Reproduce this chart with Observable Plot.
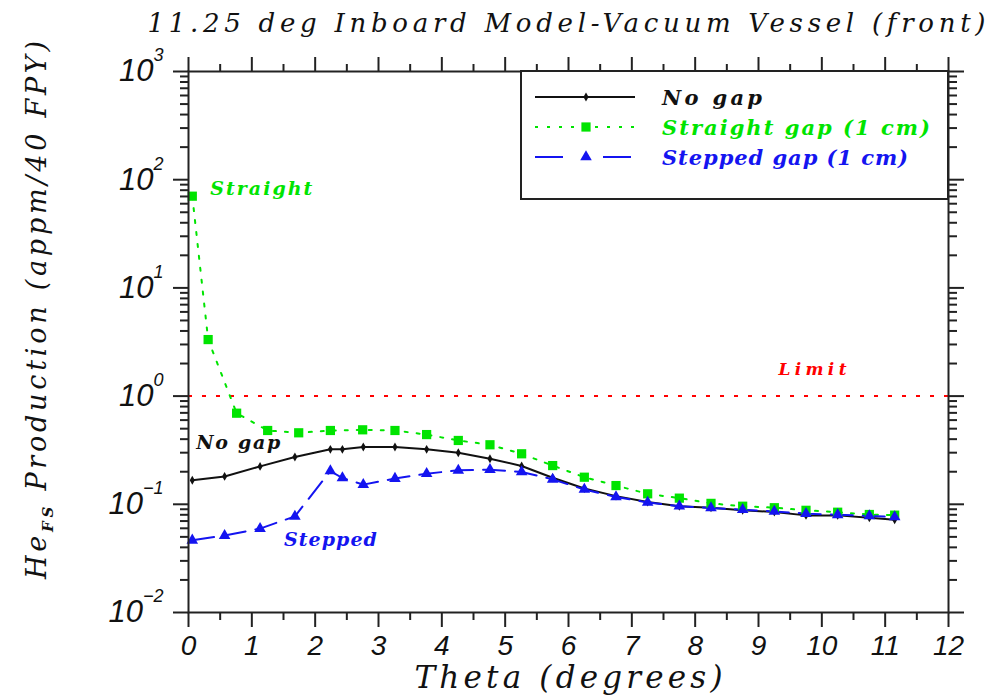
<!DOCTYPE html>
<html>
<head>
<meta charset="utf-8">
<script src="https://cdn.jsdelivr.net/npm/d3@7"></script>
<script src="https://cdn.jsdelivr.net/npm/@observablehq/plot@0.6"></script>
<style>
  body { margin: 0; background: #fff; }
</style>
</head>
<body>
<div id="chart"></div>
<script>
// He production in the vacuum vessel front, 11.25 deg inboard model
const titleText = "11.25 deg Inboard Model-Vacuum Vessel (front)";
const xLabelText = "Theta (degrees)";
const yLabelParts = ["He", "FS", " Production (appm/40 FPY)"];

// No gap
const thetaNoGap = [0.06, 0.57, 1.13, 1.68, 2.24, 2.43, 2.76, 3.26, 3.76, 4.26, 4.76, 5.26,
                    5.75, 6.25, 6.75, 7.25, 7.75, 8.25, 8.75, 9.25, 9.75, 10.25, 10.75, 11.15];
const heNoGap = [0.167, 0.181, 0.224, 0.274, 0.322, 0.322, 0.339, 0.339, 0.322, 0.300, 0.264, 0.226,
                 0.176, 0.140, 0.119, 0.105, 0.096, 0.093, 0.088, 0.085, 0.079, 0.079, 0.075, 0.072];

// Straight gap (1 cm)
const thetaStraight = [0.06, 0.31, 0.76, 1.25, 1.74, 2.24, 2.75, 3.26, 3.76, 4.26, 4.76, 5.26,
                       5.75, 6.25, 6.75, 7.25, 7.75, 8.25, 8.75, 9.25, 9.75, 10.25, 10.75, 11.15];
const heStraight = [70.4, 3.33, 0.695, 0.481, 0.458, 0.481, 0.488, 0.481, 0.441, 0.389, 0.355, 0.293,
                    0.228, 0.178, 0.149, 0.125, 0.114, 0.102, 0.096, 0.093, 0.088, 0.0845, 0.0805, 0.0794];

// Stepped gap (1 cm)
const thetaStepped = [0.06, 0.57, 1.13, 1.68, 2.24, 2.43, 2.76, 3.26, 3.76, 4.26, 4.76, 5.26,
                      5.75, 6.25, 6.75, 7.25, 7.75, 8.25, 8.75, 9.25, 9.75, 10.25, 10.75, 11.15];
const heStepped = [0.0465, 0.0514, 0.0596, 0.0774, 0.203, 0.175, 0.152, 0.173, 0.192, 0.206, 0.209, 0.199,
                   0.170, 0.137, 0.117, 0.104, 0.096, 0.0925, 0.089, 0.086, 0.082, 0.080, 0.078, 0.0763];

const limitValue = 1;
const limitLabel = "Limit";

const seriesNames = ["No gap", "Straight gap (1 cm)", "Stepped gap (1 cm)"];
const seriesTags = ["No gap", "Straight", "Stepped"];

// Axis ticks
const xMajorTicks = [0, 1, 2, 3, 4, 5, 6, 7, 8, 9, 10, 11, 12];
const xMinorTicks = [0.5, 1.5, 2.5, 3.5, 4.5, 5.5, 6.5, 7.5, 8.5, 9.5, 10.5, 11.5];
const yMajorTicks = [0.01, 0.1, 1, 10, 100, 1000];
const yTickExponents = ["\u22122", "\u22121", "0", "1", "2", "3"];
const yMinorTicks = yMajorTicks.slice(0, -1).flatMap(d => [2, 3, 4, 5, 6, 7, 8, 9].map(m => m * d));

// Styles
const GREEN = "#00e400";
const BLUE = "#1414f0";
const BLACK = "#111";
const RED = "#ff0000";
const SERIF = "DejaVu Serif, serif";
const SANS = "Liberation Sans, Arial, sans-serif";

const styles = [
  {color: BLACK, dash: null, symbol: "diamond", r: 2.7},
  {color: GREEN, dash: "3,9", symbol: "square", r: 5.2},
  {color: BLUE, dash: "22,10", symbol: "triangle", r: 4.3}
];

const rows = (t, v) => t.map((theta, i) => ({theta, he: v[i]}));
const noGap = rows(thetaNoGap, heNoGap);
const straight = rows(thetaStraight, heStraight);
const stepped = rows(thetaStepped, heStepped);
const series = [noGap, straight, stepped];

const d3Symbols = {diamond: d3.symbolDiamond, square: d3.symbolSquare, triangle: d3.symbolTriangle};

// Boxed legend in the upper right corner of the frame
function legend(index, scales, values, dims) {
  const right = dims.width - dims.marginRight;
  const top = dims.marginTop;
  const bw = 427, bh = 128;
  const bx = right - bw;
  const g = d3.create("svg:g").attr("aria-label", "legend");
  g.append("rect").attr("x", bx).attr("y", top).attr("width", bw).attr("height", bh)
    .attr("fill", "#fff").attr("stroke", "#222").attr("stroke-width", 2);
  seriesNames.forEach((name, i) => {
    const s = styles[i];
    const y = top + 26 + i * 30;
    g.append("line").attr("x1", bx + 14).attr("x2", bx + 114).attr("y1", y).attr("y2", y)
      .attr("stroke", s.color).attr("stroke-width", 2)
      .attr("stroke-dasharray", i === 2 ? "28,40" : s.dash);
    g.append("path").attr("transform", `translate(${bx + 65},${y})`)
      .attr("d", d3.symbol(d3Symbols[s.symbol], Math.PI * s.r * s.r)())
      .attr("fill", s.color);
    g.append("text").attr("x", bx + 141).attr("y", y).attr("dy", "0.36em")
      .attr("text-anchor", "start")
      .attr("fill", s.color).attr("font-family", SERIF).attr("font-style", "italic")
      .attr("font-weight", "bold").attr("font-size", 21)
      .attr("textLength", [100, 268, 246][i]).attr("lengthAdjust", "spacing")
      .text(name);
  });
  return g.node();
}

const tickCommon = {strokeWidth: 2, stroke: "#222", label: null};
const noText = {tickFormat: () => "", fill: "none"};
const tagFont = {fontFamily: SERIF, fontStyle: "italic", fontWeight: "bold", fontSize: 19,
                 textAnchor: "start", lineAnchor: "middle"};

const chart = Plot.plot({
  width: 1002,
  height: 698,
  marginLeft: 188,
  marginRight: 54,
  marginTop: 71,
  marginBottom: 86,
  style: {background: "#fff", color: BLACK, fontFamily: SERIF},
  x: {domain: [0, 12], label: null},
  y: {type: "log", domain: [0.01, 1000], label: null},
  marks: [
    Plot.ruleY([limitValue], {stroke: RED, strokeWidth: 2, strokeDasharray: "4,10"}),
    ...series.map((data, i) => Plot.line(data, {
      x: "theta", y: "he", stroke: styles[i].color, strokeWidth: 2,
      strokeDasharray: styles[i].dash
    })),
    ...series.map((data, i) => Plot.dot(data, {
      x: "theta", y: "he", symbol: styles[i].symbol, r: styles[i].r, fill: styles[i].color
    })),

    // ticks on all four sides, pointing outward
    Plot.axisX(xMajorTicks, {anchor: "bottom", tickSize: 15, tickPadding: 8, ...tickCommon,
      tickFormat: d => String(d), fontSize: 28, fontStyle: "italic", fontFamily: SANS, fill: BLACK}),
    Plot.axisX(xMinorTicks, {anchor: "bottom", tickSize: 8, ...tickCommon, ...noText}),
    Plot.axisX(xMajorTicks, {anchor: "top", tickSize: 15, ...tickCommon, ...noText}),
    Plot.axisX(xMinorTicks, {anchor: "top", tickSize: 8, ...tickCommon, ...noText}),
    Plot.axisY(yMajorTicks, {anchor: "left", tickSize: 15, tickPadding: 10, ...tickCommon,
      tickFormat: d => "10^" + yTickExponents[yMajorTicks.indexOf(d)],
      fontSize: 31, fontStyle: "italic", fontFamily: SANS, fill: BLACK}),
    Plot.axisY(yMinorTicks, {anchor: "left", tickSize: 8, ...tickCommon, ...noText}),
    Plot.axisY(yMajorTicks, {anchor: "right", tickSize: 15, ...tickCommon, ...noText}),
    Plot.axisY(yMinorTicks, {anchor: "right", tickSize: 8, ...tickCommon, ...noText}),
    Plot.frame({stroke: "#222", strokeWidth: 2}),

    legend,

    // series tags next to the curves
    Plot.text([straight[0]], {x: "theta", y: "he", text: () => seriesTags[1], dx: 18, dy: -7,
      fill: GREEN, ...tagFont}),
    Plot.text([noGap[0]], {x: "theta", y: "he", text: () => seriesTags[0], dx: 4, dy: -37,
      fill: BLACK, ...tagFont}),
    Plot.text([stepped[3]], {x: "theta", y: "he", text: () => seriesTags[2], dx: -11, dy: 24,
      fill: BLUE, ...tagFont}),
    Plot.text([limitValue], {y: d => d, text: () => limitLabel, frameAnchor: "right", dx: -102, dy: -27,
      fill: RED, ...tagFont, fontSize: 17, textAnchor: "end"}),

    // title and axis labels
    Plot.text([titleText], {text: d => d, frameAnchor: "top", dx: -2, dy: -48,
      textAnchor: "middle", lineAnchor: "middle",
      fontFamily: SERIF, fontStyle: "italic", fontSize: 26, fill: BLACK}),
    Plot.text([xLabelText], {text: d => d, frameAnchor: "bottom", dy: 66,
      textAnchor: "middle", lineAnchor: "middle",
      fontFamily: SERIF, fontStyle: "italic", fontSize: 31, fill: BLACK}),
    Plot.text([yLabelParts.join("")], {text: d => d, frameAnchor: "left", dx: -151, dy: -32,
      rotate: -90, textAnchor: "middle", lineAnchor: "middle",
      fontFamily: SERIF, fontStyle: "italic", fontSize: 27, fill: BLACK})
  ]
});

document.getElementById("chart").appendChild(chart);

const svg = d3.select(chart);
const textsOf = s => svg.selectAll("text").filter(function () { return this.textContent === s; });

// superscript exponents on the decade labels
svg.selectAll('g[aria-label="y-axis tick label"] text').each(function () {
  const s = this.textContent;
  if (!s.includes("^")) return;
  const [base, exp] = s.split("^");
  const t = d3.select(this);
  t.text(base);
  t.append("tspan").attr("dy", -20).attr("font-size", 18).text(exp);
});

// stretch the letter spacing of the labels to their set widths
const fit = (sel, len) => sel.attr("textLength", len).attr("lengthAdjust", "spacing");
fit(textsOf(titleText), 838);
fit(textsOf(xLabelText), 308);
fit(textsOf(seriesTags[1]), 102);
fit(textsOf(seriesTags[2]), 93);
fit(textsOf(limitLabel), 68);
fit(textsOf(seriesTags[0]).filter(function () { return !this.closest('g[aria-label="legend"]'); }), 84);

// subscript in the y label
textsOf(yLabelParts.join("")).each(function () {
  const t = d3.select(this);
  t.text(yLabelParts[0]);
  t.append("tspan").attr("dy", 7).attr("font-size", 15).attr("font-weight", "bold").text(yLabelParts[1]);
  t.append("tspan").attr("dy", -7).text(yLabelParts[2]);
  fit(t, 538);
});
</script>
</body>
</html>
